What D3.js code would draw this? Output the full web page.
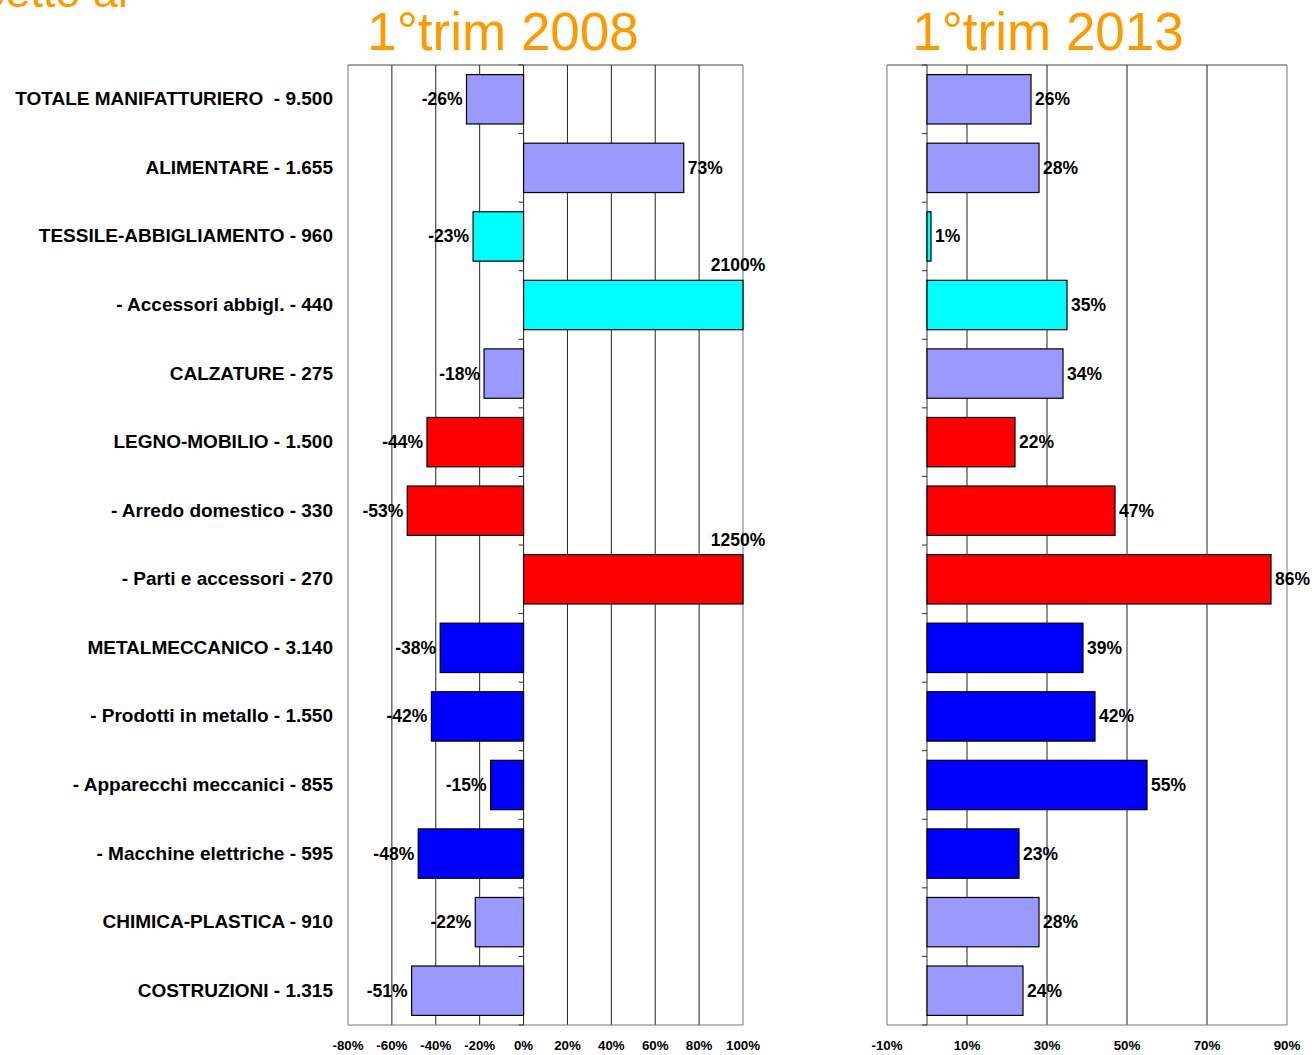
<!DOCTYPE html>
<html>
<head>
<meta charset="utf-8">
<script src="https://cdn.jsdelivr.net/npm/d3@7"></script>
<style>
  body { margin: 0; background: #fff; }
  text { font-family: "Liberation Sans", Arial, sans-serif; }
</style>
</head>
<body>
<svg width="1316" height="1055"></svg>
<script>
var svg = d3.select("svg")

// data
var categories = [
	"TOTALE MANIFATTURIERO  - 9.500",
	"ALIMENTARE - 1.655",
	"TESSILE-ABBIGLIAMENTO - 960",
	"- Accessori abbigl. - 440",
	"CALZATURE - 275",
	"LEGNO-MOBILIO - 1.500",
	"- Arredo domestico - 330",
	"- Parti e accessori - 270",
	"METALMECCANICO - 3.140",
	"- Prodotti in metallo - 1.550",
	"- Apparecchi meccanici - 855",
	"- Macchine elettriche - 595",
	"CHIMICA-PLASTICA - 910",
	"COSTRUZIONI - 1.315"
]
var groups = ["lav", "lav", "cyan", "cyan", "lav", "red", "red", "red", "blue", "blue", "blue", "blue", "lav", "lav"]
var values2008 = [-26, 73, -23, 2100, -18, -44, -53, 1250, -38, -42, -15, -48, -22, -51]
var values2013 = [26, 28, 1, 35, 34, 22, 47, 86, 39, 42, 55, 23, 28, 24]
var ticks2008 = [-80, -60, -40, -20, 0, 20, 40, 60, 80, 100]
var ticks2013 = [-10, 10, 30, 50, 70, 90]

var groupColor = { lav: "#9999ff", cyan: "#00ffff", red: "#ff0000", blue: "#0000ff" }

// note: "top" is taken by window.top, so use other names
var plotTop = 65, plotBottom = 1025

var y = d3.scaleBand()
	.domain(categories)
	.range([plotTop, plotBottom])
	.paddingInner(0.28)
	.paddingOuter(0.14)

// category labels
svg.append("g")
	.selectAll("text")
	.data(categories)
	.enter()
	.append("text")
	.attr("x", 333)
	.attr("y", d => y(d) + y.bandwidth() / 2 + 6)
	.attr("text-anchor", "end")
	.attr("font-size", 19)
	.attr("font-weight", "bold")
	.style("white-space", "pre")
	.text(d => d)

// cut-off heading at top-left
svg.append("text")
	.attr("x", 128).attr("y", 7)
	.attr("text-anchor", "end")
	.attr("font-size", 45)
	.attr("fill", "#ff9900")
	.text("rispetto al")

function panel(opts) {
	var x = d3.scaleLinear().domain(opts.domain).range(opts.range)
	var g = svg.append("g")

	g.append("text")
		.attr("x", opts.titleX).attr("y", 50)
		.attr("text-anchor", "middle")
		.attr("font-size", 53)
		.attr("fill", "#ff9900")
		.text(opts.title)

	// gridlines
	g.append("g")
		.selectAll("line")
		.data(opts.ticks)
		.enter()
		.append("line")
		.attr("x1", d => x(d)).attr("x2", d => x(d))
		.attr("y1", plotTop).attr("y2", plotBottom)
		.attr("stroke", (d, i) => (i == 0 || i == opts.ticks.length - 1) ? "#777" : "#222")
		.attr("stroke-width", 1)

	// top and bottom lines
	g.append("line")
		.attr("x1", opts.range[0]).attr("x2", opts.range[1])
		.attr("y1", plotTop).attr("y2", plotTop)
		.attr("stroke", "#444")
	g.append("line")
		.attr("x1", opts.range[0]).attr("x2", opts.range[1])
		.attr("y1", plotBottom).attr("y2", plotBottom)
		.attr("stroke", "#777")

	// zero axis with ticks
	g.append("line")
		.attr("x1", x(0)).attr("x2", x(0))
		.attr("y1", plotTop).attr("y2", plotBottom)
		.attr("stroke", "#333")
	g.append("g")
		.selectAll("line")
		.data(d3.range(categories.length + 1))
		.enter()
		.append("line")
		.attr("x1", x(0) - 5).attr("x2", x(0))
		.attr("y1", i => plotTop + i * y.step()).attr("y2", i => plotTop + i * y.step())
		.attr("stroke", "#333")

	// tick labels
	g.append("g")
		.selectAll("text")
		.data(opts.ticks)
		.enter()
		.append("text")
		.attr("x", d => x(d))
		.attr("y", 1050)
		.attr("text-anchor", "middle")
		.attr("font-size", 13.3)
		.attr("font-weight", "bold")
		.text(d => d + "%")

	var maxV = opts.domain[1]
	var rows = categories.map((c, i) => ({ c: c, v: opts.values[i], col: groupColor[groups[i]] }))

	g.append("g")
		.selectAll("rect")
		.data(rows)
		.enter()
		.append("rect")
		.attr("x", d => x(Math.min(0, d.v)))
		.attr("y", d => y(d.c))
		.attr("width", d => Math.abs(x(Math.min(d.v, maxV)) - x(0)))
		.attr("height", y.bandwidth())
		.attr("fill", d => d.col)
		.attr("stroke", "#000")
		.attr("stroke-width", 1.2)

	g.append("g")
		.selectAll("text")
		.data(rows)
		.enter()
		.append("text")
		.attr("x", d => {
			if (d.v > maxV) return x(maxV) - 5
			return d.v < 0 ? x(d.v) - 4 : x(d.v) + 4
		})
		.attr("y", d => d.v > maxV ? y(d.c) - 9 : y(d.c) + y.bandwidth() / 2 + 6)
		.attr("text-anchor", d => d.v > maxV ? "middle" : (d.v < 0 ? "end" : "start"))
		.attr("font-size", 17.5)
		.attr("font-weight", "bold")
		.text(d => d.v + "%")
}

panel({
	title: "1°trim 2008", titleX: 503,
	domain: [-80, 100], range: [348, 743],
	ticks: ticks2008, values: values2008
})
panel({
	title: "1°trim 2013", titleX: 1048,
	domain: [-10, 90], range: [887, 1287],
	ticks: ticks2013, values: values2013
})
</script>
</body>
</html>
